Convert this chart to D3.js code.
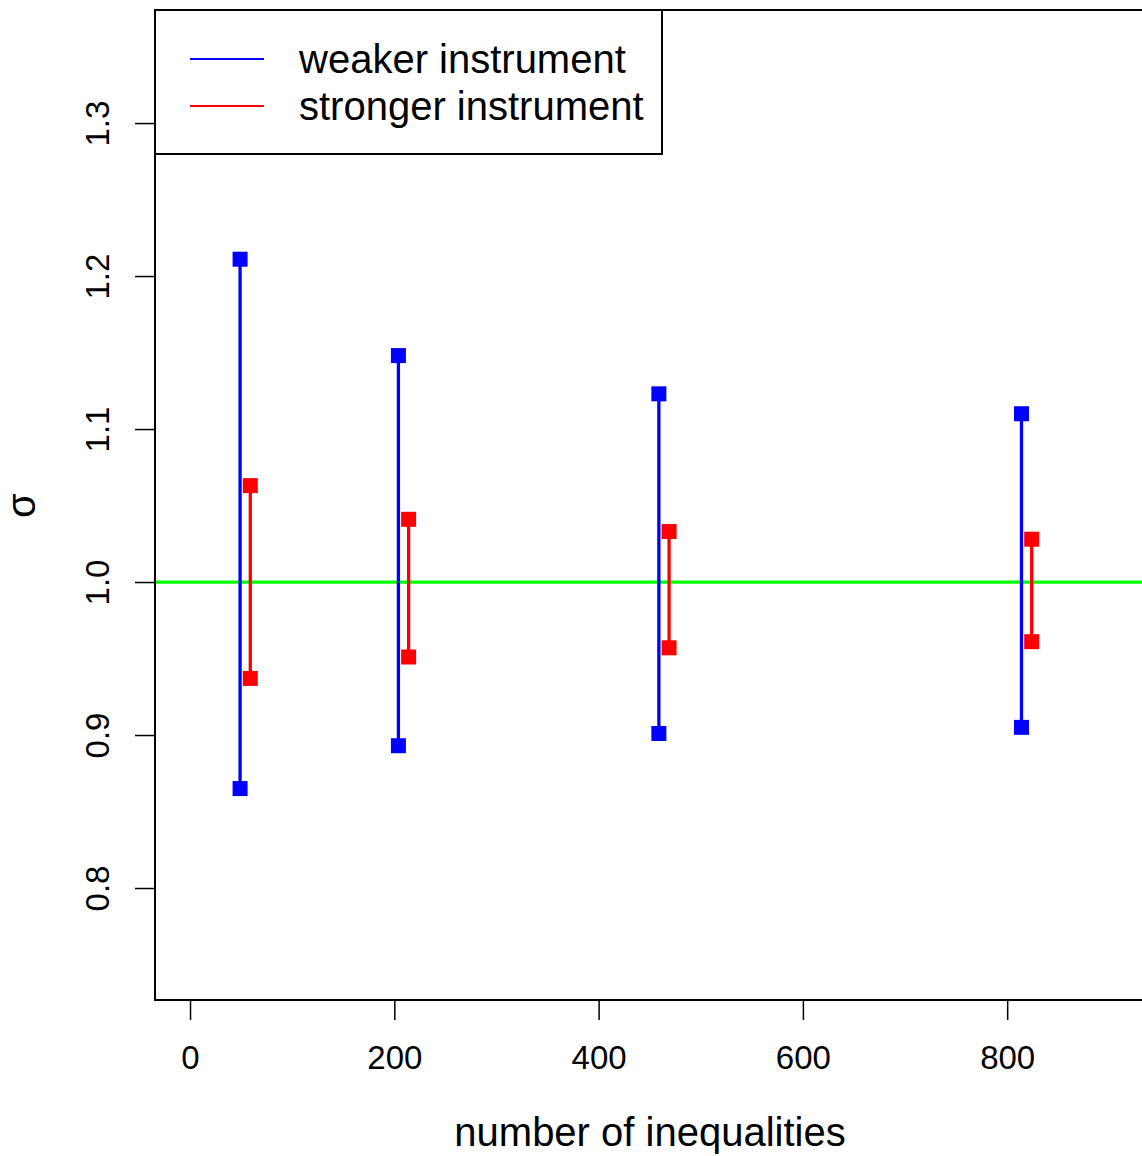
<!DOCTYPE html>
<html>
<head>
<meta charset="utf-8">
<script src="https://cdn.jsdelivr.net/npm/d3@7"></script>
<style>
  html, body { margin: 0; padding: 0; background: #fff; }
  svg { display: block; font-family: "Liberation Sans", Arial, sans-serif; }
</style>
</head>
<body>
<svg id="chart" width="1142" height="1156"></svg>
<script>
// Interval endpoints of sigma against number of inequalities
const series = ["weaker instrument", "stronger instrument"];
const seriesColors = ["#0000ff", "#ff0000"];
const weakX = [49, 204, 459, 814];
const weakLow = [0.865, 0.893, 0.901, 0.905];
const weakHigh = [1.211, 1.148, 1.123, 1.110];
const strongX = [59, 214, 469, 824];
const strongLow = [0.937, 0.951, 0.957, 0.961];
const strongHigh = [1.063, 1.041, 1.033, 1.028];
const xTicks = [0, 200, 400, 600, 800];
const yTicks = [0.8, 0.9, 1.0, 1.1, 1.2, 1.3];
const refLine = 1.0;

(function draw() {
  const svg = d3.select("#chart");
  const pLeft = 155, pTop = 10, pBottom = 1000, pRight = 1142;

  const x = d3.scaleLinear().domain([-34.3, 932]).range([pLeft, pRight]);
  const y = d3.scaleLinear().domain([0.7268, 1.3739]).range([pBottom, pTop]);

  // reference line at sigma = 1
  svg.append("line")
    .attr("x1", pLeft).attr("x2", pRight + 10)
    .attr("y1", y(refLine)).attr("y2", y(refLine))
    .attr("stroke", "#00ff00").attr("stroke-width", 3.3);

  const groups = [
    { xs: weakX, lo: weakLow, hi: weakHigh, color: seriesColors[0] },
    { xs: strongX, lo: strongLow, hi: strongHigh, color: seriesColors[1] }
  ];

  groups.forEach(g => {
    const rows = g.xs.map((v, i) => ({ x: v, lo: g.lo[i], hi: g.hi[i] }));
    const gg = svg.append("g");
    gg.selectAll("line.seg").data(rows).enter().append("line")
      .attr("x1", d => x(d.x)).attr("x2", d => x(d.x))
      .attr("y1", d => y(d.lo)).attr("y2", d => y(d.hi))
      .attr("stroke", g.color).attr("stroke-width", 3.3);
    const pts = rows.flatMap(d => [{ x: d.x, v: d.lo }, { x: d.x, v: d.hi }]);
    const s = 15;
    gg.selectAll("rect.pt").data(pts).enter().append("rect")
      .attr("x", d => x(d.x) - s / 2).attr("y", d => y(d.v) - s / 2)
      .attr("width", s).attr("height", s)
      .attr("fill", g.color);
  });

  // plot frame (right edge lies beyond the canvas)
  svg.append("path")
    .attr("d", `M${pRight + 5},${pTop}H${pLeft}V${pBottom}H${pRight + 5}`)
    .attr("fill", "none").attr("stroke", "#000").attr("stroke-width", 2);

  // x axis
  const xAxis = d3.axisBottom(x).tickValues(xTicks).tickSize(20).tickPadding(26)
    .tickFormat(d3.format("d"));
  const gx = svg.append("g").attr("transform", `translate(0,${pBottom})`).call(xAxis);
  gx.select(".domain").remove();
  gx.selectAll(".tick line").attr("stroke", "#000").attr("stroke-width", 1.5);
  gx.selectAll(".tick text").attr("font-size", 33).attr("fill", "#000")
    .attr("font-family", "Liberation Sans, Arial, sans-serif");

  // y axis with rotated labels
  const yAxis = d3.axisLeft(y).tickValues(yTicks).tickSize(20).tickFormat(d3.format(".1f"));
  const gy = svg.append("g").attr("transform", `translate(${pLeft},0)`).call(yAxis);
  gy.select(".domain").remove();
  gy.selectAll(".tick line").attr("stroke", "#000").attr("stroke-width", 1.5);
  gy.selectAll(".tick text")
    .attr("font-size", 33).attr("fill", "#000")
    .attr("font-family", "Liberation Sans, Arial, sans-serif")
    .attr("x", null).attr("dy", null)
    .attr("text-anchor", "middle")
    .attr("transform", "translate(-46,0) rotate(-90)");

  // axis titles
  svg.append("text")
    .attr("x", 650).attr("y", 1146)
    .attr("text-anchor", "middle").attr("font-size", 40)
    .text("number of inequalities");

  svg.append("text")
    .attr("transform", `translate(35,${y(1.05)}) rotate(-90)`)
    .attr("text-anchor", "middle").attr("font-size", 40)
    .text("σ");

  // legend
  const lg = svg.append("g");
  lg.append("rect")
    .attr("x", pLeft).attr("y", pTop).attr("width", 507).attr("height", 144)
    .attr("fill", "#fff").attr("stroke", "#000").attr("stroke-width", 2);
  series.forEach((name, i) => {
    const ly = 59 + i * 47;
    lg.append("line").attr("x1", 190).attr("x2", 264).attr("y1", ly).attr("y2", ly)
      .attr("stroke", seriesColors[i]).attr("stroke-width", 2);
    lg.append("text").attr("x", 299).attr("y", ly + 14)
      .attr("font-size", 40).text(name);
  });
})();
</script>
</body>
</html>
